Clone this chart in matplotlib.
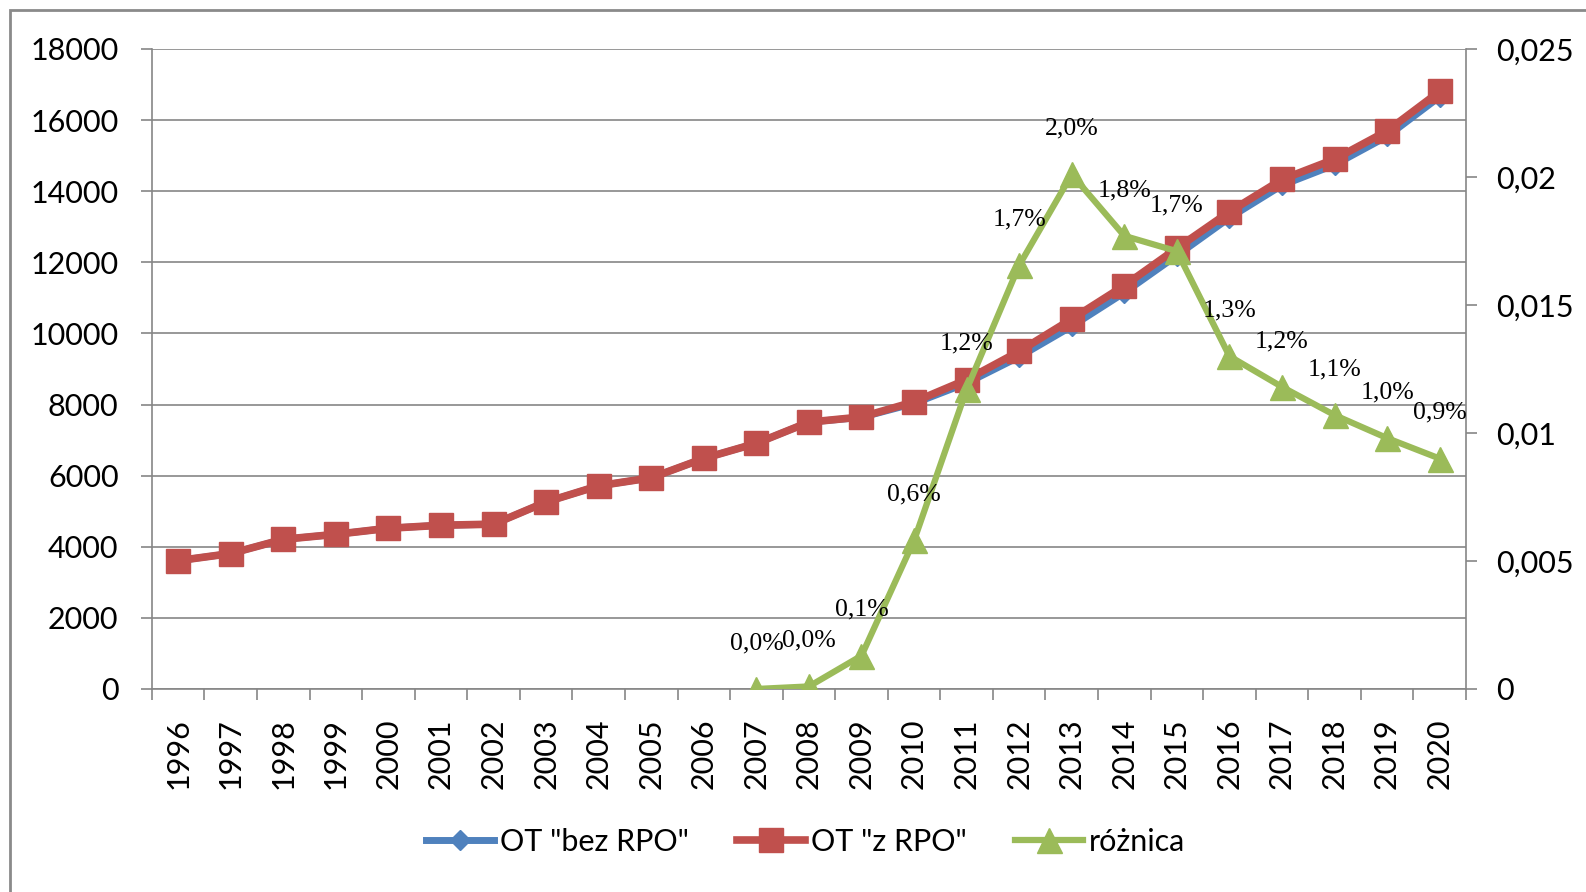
import matplotlib.pyplot as plt
from matplotlib.patches import Rectangle
from matplotlib.lines import Line2D
import numpy as np

plt.rcParams['font.family'] = ['Lato', 'DejaVu Sans']

# dane
years = [str(y) for y in range(1996, 2021)]
ot_z_rpo = [3610, 3810, 4210, 4350, 4520, 4605, 4635, 5260, 5715, 5940, 6485,
            6910, 7505, 7650, 8075, 8700, 9495, 10405, 11345, 12395, 13420,
            14330, 14900, 15695, 16805]
ot_bez_rpo = [3610, 3810, 4210, 4350, 4520, 4605, 4635, 5260, 5715, 5940, 6485,
              6910, 7505, 7640, 8030, 8600, 9340, 10200, 11145, 12190, 13250,
              14165, 14740, 15540, 16655]
roznica = [None] * 11 + [0.0, 0.0001, 0.0013, 0.0058, 0.0117, 0.01655, 0.0201,
                         0.0177, 0.0171, 0.0130, 0.0118, 0.0107, 0.0098, 0.0090]
roznica_labels = ["0,0%", "0,0%", "0,1%", "0,6%", "1,2%", "1,7%", "2,0%",
                  "1,8%", "1,7%", "1,3%", "1,2%", "1,1%", "1,0%", "0,9%"]

blue = '#4F81BD'
red = '#C0504D'
green = '#9BBB59'
gray = '#868686'

fig = plt.figure(figsize=(15.86, 8.92), dpi=100)
ax = fig.add_axes([0.0958, 0.2276, 0.9243 - 0.0958, 0.9451 - 0.2276])
x = np.arange(len(years))

ax.plot(x, ot_bez_rpo, color=blue, lw=5, marker='D', ms=10, zorder=3)
ax.plot(x, ot_z_rpo, color=red, lw=5.5, marker='s', ms=17, zorder=4)

ax.set_ylim(0, 18000)
ax.set_xlim(-0.5, len(years) - 0.5)
ax.set_yticks(range(0, 18001, 2000))
ax.set_yticklabels([str(v) for v in range(0, 18001, 2000)])
ax.yaxis.grid(True, color=gray, lw=1.2)
ax.set_axisbelow(True)
ax.set_xticks(x)
ax.set_xticklabels(years, rotation=90, va='top', ha='center')
ax.set_xticks(np.arange(-0.5, len(years)), minor=True)
ax.tick_params(axis='x', which='major', length=0, pad=21, labelsize=22)
ax.tick_params(axis='x', which='minor', length=8, width=1.2, color=gray)
ax.tick_params(axis='y', length=8, width=1.2, color=gray, pad=16, labelsize=22)
for s in ['top', 'right']:
    ax.spines[s].set_visible(False)
for s in ['left', 'bottom']:
    ax.spines[s].set_color(gray)
    ax.spines[s].set_linewidth(1.2)

ax2 = ax.twinx()
ax2.plot(x, [np.nan if v is None else v for v in roznica], color=green, lw=4.5,
         marker='^', ms=18, zorder=5)
ax2.set_ylim(0, 0.025)
ticks2 = [0, 0.005, 0.01, 0.015, 0.02, 0.025]
ax2.set_yticks(ticks2)
ax2.set_yticklabels(["0", "0,005", "0,01", "0,015", "0,02", "0,025"])
ax2.tick_params(axis='y', length=8, width=1.2, color=gray, pad=14, labelsize=22)
for s in ['top', 'left', 'bottom']:
    ax2.spines[s].set_visible(False)
ax2.spines['right'].set_color(gray)
ax2.spines['right'].set_linewidth(1.2)

start = 11
for i, lab in enumerate(roznica_labels):
    ax2.annotate(lab, (x[start + i], roznica[start + i]), xytext=(0, 33),
                 textcoords='offset points', ha='center', va='center',
                 family=['Liberation Serif', 'DejaVu Serif'], fontsize=18.5,
                 zorder=6)

handles = [
    Line2D([], [], color=blue, lw=5, marker='D', ms=10),
    Line2D([], [], color=red, lw=5.5, marker='s', ms=17),
    Line2D([], [], color=green, lw=4.5, marker='^', ms=18),
]
fig.legend(handles, ['OT "bez RPO"', 'OT "z RPO"', 'różnica'], loc='center',
           bbox_to_anchor=(0.508, 0.056), ncol=3, frameon=False, fontsize=22,
           handlelength=2.2, handletextpad=0.2, columnspacing=1.6)

# ramka wykresu
fig.patches.append(Rectangle((0.0063, -0.1), 1.2, 1.0888, transform=fig.transFigure,
                             fill=False, edgecolor='#8a8a8a', lw=2, zorder=0))

plt.savefig("out.png", dpi=100)
